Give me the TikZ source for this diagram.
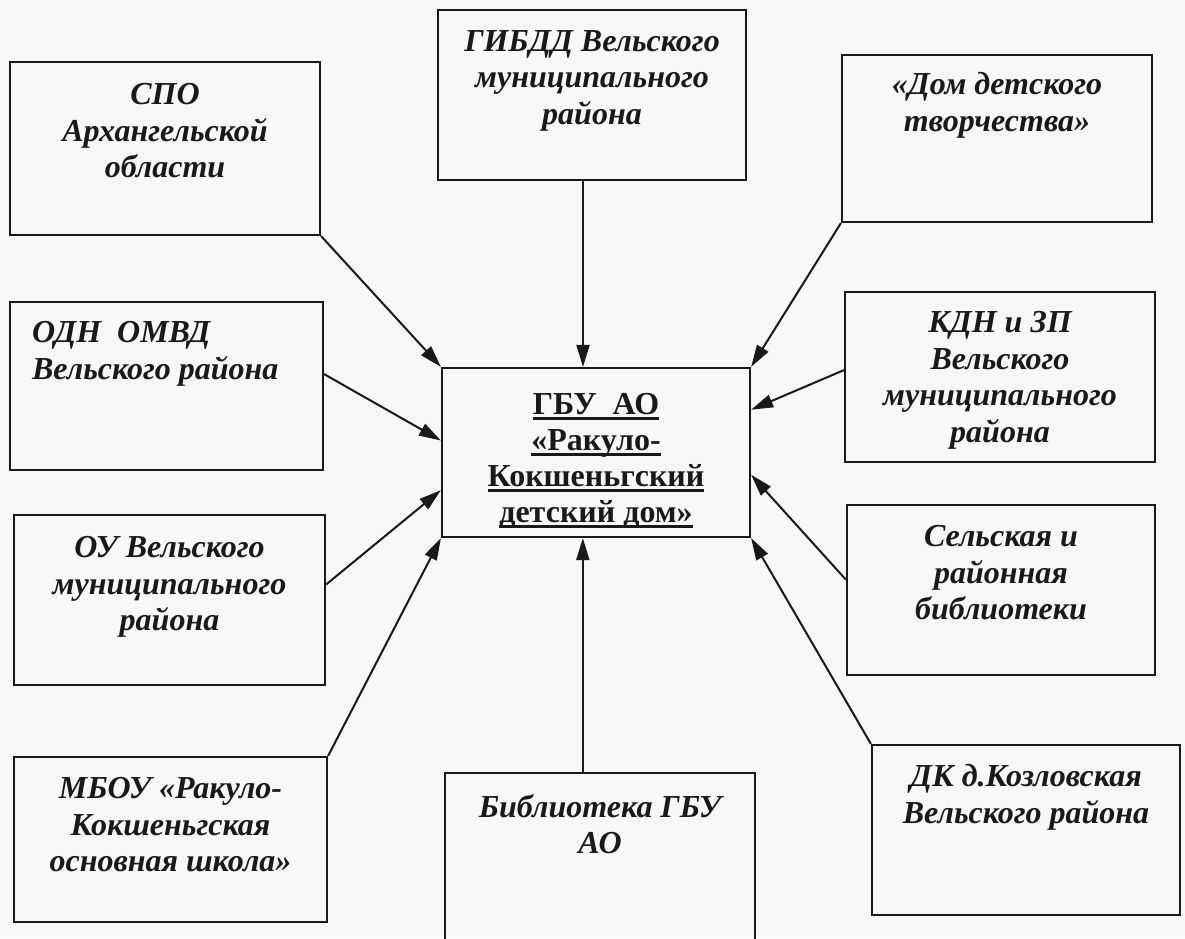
\documentclass[tikz,border=0pt]{standalone}
\usepackage{fontspec}
\setmainfont{Liberation Serif}
\usetikzlibrary{arrows.meta,calc}
\definecolor{paper}{RGB}{247,247,245}
\definecolor{ink}{RGB}{25,25,25}
\newcommand\myul[1]{\setbox0\hbox{#1}\rlap{\color{ink}\rule[-6pt]{\wd0}{3.4pt}}\box0}
\begin{document}
\begin{tikzpicture}[x=1pt,y=-1pt,
  box/.style={draw=ink, line width=2.2pt, inner sep=0pt},
  txt/.style={font=\fontsize{32}{36.8}\selectfont\bfseries\itshape, align=center, inner sep=0pt, text=ink, anchor=north},
  ctxt/.style={font=\fontsize{32}{36}\selectfont\bfseries, align=center, inner sep=0pt, text=ink, anchor=north},
  link/.style={draw=ink, line width=2pt, -{Triangle[length=22pt,width=13pt]}}]
\fill[paper] (0,0) rectangle (1185,938);
\useasboundingbox (0,0) rectangle (1185,938);

% boxes
\node[box, minimum width=310pt, minimum height=173pt] (spo)    at (165,148.5) {};
\node[box, minimum width=308pt, minimum height=170pt] (gibdd)  at (592,95) {};
\node[box, minimum width=310pt, minimum height=167pt] (dom)    at (997,138.5) {};
\node[box, minimum width=313pt, minimum height=168pt] (odn)    at (166.5,386) {};
\node[box, minimum width=308pt, minimum height=169pt] (center) at (596,452.5) {};
\node[box, minimum width=310pt, minimum height=170pt] (kdn)    at (1000,377) {};
\node[box, minimum width=311pt, minimum height=170pt] (ou)     at (169.5,600) {};
\node[box, minimum width=308pt, minimum height=170pt] (sel)    at (1001,590) {};
\node[box, minimum width=313pt, minimum height=165pt] (mbou)   at (170.5,839.5) {};
\node[box, minimum width=310pt, minimum height=177pt] (bib)    at (600,861.5) {};
\node[box, minimum width=308pt, minimum height=170pt] (dk)     at (1026,830) {};

% texts
\node[txt] (spo-t)   at ($(spo.north)+(0,22)$)   {СПО\\Архангельской\\области};
\node[txt] (gibdd-t) at ($(gibdd.north)+(0,21)$) {ГИБДД Вельского\\муниципального\\района};
\node[txt] (dom-t)   at ($(dom.north)+(0,18)$)   {«Дом детского\\творчества»};
\node[txt, align=left, anchor=north west] (odn-t) at ($(odn.north west)+(23,20)$) {ОДН\ \ ОМВД\\Вельского района};
\node[ctxt] (center-t) at ($(center.north)+(0,26)$) {\myul{ГБУ\ \ АО}\\\myul{«Ракуло-}\\\myul{Кокшеньгский}\\\myul{детский дом»}};
\node[txt] (kdn-t)   at ($(kdn.north)+(0,20)$)   {КДН и ЗП\\Вельского\\муниципального\\района};
\node[txt] (ou-t)    at ($(ou.north)+(0,22)$)    {ОУ Вельского\\муниципального\\района};
\node[txt] (sel-t)   at ($(sel.north)+(0,21)$)   {Сельская и\\районная\\библиотеки};
\node[txt] (mbou-t)  at ($(mbou.north)+(0,21)$)  {МБОУ «Ракуло-\\Кокшеньгская\\основная школа»};
\node[txt] (bib-t)   at ($(bib.north)+(0,22)$)   {Библиотека ГБУ\\АО};
\node[txt] (dk-t)    at ($(dk.north)+(0,20)$)    {ДК д.Козловская\\Вельского района};

% connectors
\draw[link] (spo.south east) -- (center.north west);
\coordinate (g1) at ($(gibdd.south west)!0.471!(gibdd.south east)$);
\draw[link] (g1) -- (g1 |- center.north);
\draw[link] (dom.south west) -- (center.north east);
\draw[link] ($(odn.north east)!0.43!(odn.south east)$) -- ($(center.north west)!0.43!(center.south west)$);
\draw[link] ($(kdn.north west)!0.46!(kdn.south west)$) -- ($(center.north east)!0.25!(center.south east)$);
\draw[link] ($(ou.north east)!0.41!(ou.south east)$) -- ($(center.north west)!0.72!(center.south west)$);
\draw[link] ($(sel.north west)!0.44!(sel.south west)$) -- ($(center.north east)!0.63!(center.south east)$);
\draw[link] (mbou.north east) -- (center.south west);
\coordinate (b1) at ($(bib.north west)!0.445!(bib.north east)$);
\draw[link] (b1) -- (b1 |- center.south);
\draw[link] (dk.north west) -- (center.south east);
\end{tikzpicture}
\end{document}
